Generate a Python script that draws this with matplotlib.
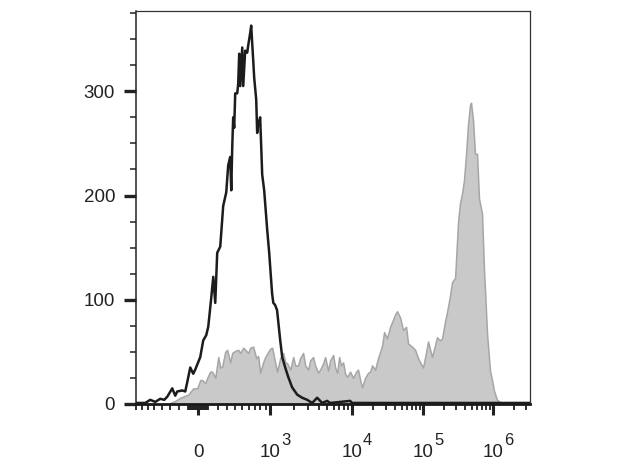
import numpy as np
import matplotlib
matplotlib.use('Agg')
import matplotlib.pyplot as plt
from matplotlib import transforms

plt.rcParams['font.family'] = ['Liberation Sans', 'DejaVu Sans']

# isotype / unstained control (black open histogram)
ctrl_x = [-794, -637, -559, -487, -419, -368, -331, -273, -239, -217,
          -163, -132, -111, -80.5, -50.2, -30.1, 20.1, 50.2, 80.5, 101,
          132, 153, 174, 195, 228, 261, 296, 319, 343, 356,
          368, 380, 393, 406, 432, 445, 459, 473, 501, 515,
          544, 574, 590, 621, 637, 670, 687, 722, 739, 757,
          794, 833, 872, 935, 978, 1060, 1100, 1160, 1230, 1350,
          1430, 1560, 1700, 1900, 2190, 2520, 2900, 3330, 3820, 4390,
          5030, 5470, 9470, 10000, 3380000]
ctrl_n = [1, 1, 4, 2, 5, 4, 7, 15, 8, 12,
          13, 12, 21, 35, 29, 33, 45, 61, 66, 74,
          102, 122, 97, 145, 151, 190, 203, 229, 237, 205,
          246, 275, 265, 298, 298, 307, 336, 305, 342, 305,
          339, 337, 344, 356, 363, 330, 313, 292, 260, 268,
          275, 220, 205, 167, 145, 106, 97, 95, 90, 61,
          45, 35, 26, 16, 9, 6, 4, 1, 6, 1,
          3, 1, 3, 1, 1]

# stained sample (grey filled histogram)
stain_x = [-296, -239, -184, -101, -50.2, -10, 20.1, 40.1, 70.4, 90.7,
           121, 142, 174, 206, 228, 250, 284, 307, 343, 368,
           406, 445, 473, 515, 544, 590, 621, 670, 722, 757,
           794, 852, 893, 956, 1000, 1060, 1160, 1230, 1350, 1470,
           1560, 1650, 1800, 1960, 2070, 2250, 2380, 2590, 2740, 2980,
           3150, 3420, 3610, 3930, 4150, 4510, 4760, 5170, 5470, 5940,
           6270, 6630, 7000, 7390, 7810, 8250, 8720, 9470, 10300, 11400,
           12100, 13000, 13800, 15200, 16800, 17900, 19100, 21100, 23200, 24800,
           26500, 28200, 31100, 34300, 37800, 40300, 43000, 47400, 52300, 57600,
           61500, 70000, 77200, 85000, 90700, 100000, 107000, 118000, 134000, 148000,
           158000, 175000, 187000, 206000, 220000, 243000, 260000, 287000, 316000, 338000,
           361000, 385000, 411000, 439000, 469000, 485000, 518000, 553000, 591000, 631000,
           696000, 744000, 769000, 821000, 848000, 906000, 968000, 1030000, 1140000, 1260000,
           1390000]
stain_n = [1, 3, 6, 9, 15, 15, 23, 23, 20, 25,
           31, 31, 25, 45, 35, 36, 50, 52, 40, 49,
           51, 52, 49, 54, 52, 49, 54, 55, 44, 46,
           30, 40, 45, 50, 53, 54, 40, 31, 44, 49,
           40, 39, 33, 45, 37, 37, 44, 49, 37, 33,
           42, 45, 37, 30, 33, 39, 45, 32, 42, 47,
           35, 30, 45, 37, 40, 29, 26, 31, 25, 31,
           33, 23, 16, 25, 30, 31, 37, 33, 44, 50,
           56, 69, 63, 74, 81, 86, 89, 83, 71, 74,
           58, 55, 52, 44, 40, 35, 45, 60, 45, 56,
           64, 61, 63, 79, 88, 104, 117, 121, 174, 193,
           202, 215, 239, 268, 287, 289, 272, 240, 240, 197,
           183, 128, 109, 68, 56, 32, 23, 13, 4, 2,
           0]

major_x = [0, 1e3, 1e4, 1e5, 1e6]
major_exp = ['', '3', '4', '5', '6']

# biexponential display (logicle-like)
U = np.arcsinh(np.array([0, 1e3, 1e4, 1e5, 1e6, 1e7]) / 500.0)
P = np.array([0, 72, 154, 225, 295, 365.0])

def fwd(x):
    x = np.asarray(x, float)
    return np.sign(x) * np.interp(np.arcsinh(np.abs(x) / 500.0), U, P)

def inv(d):
    d = np.asarray(d, float)
    return np.sign(d) * 500.0 * np.sinh(np.interp(np.abs(d), P, U))

fig = plt.figure(figsize=(6.22, 4.66), dpi=100)
ax = fig.add_axes([136/622, 62/466, 394/622, 393/466])
ax.set_xscale('function', functions=(fwd, inv))

ax.fill_between(stain_x, stain_n, 0, facecolor='#c9c9c9', edgecolor='#a6a6a6', lw=1.1, zorder=2)
ax.plot(ctrl_x, ctrl_n, color='#1c1c1c', lw=1.8, zorder=3)

ax.set_xlim(-794, 3.38e6)
ax.set_ylim(0, 377)

minor = list(-np.arange(100, 900, 100)) + list(np.arange(-90, 100, 10)) + list(np.arange(100, 1000, 100))
for dec in [1e3, 1e4, 1e5]:
    minor += [k * dec for k in range(2, 10)]
minor += [2e6, 3e6]
minor = [m for m in minor if m != 0]
ax.set_xticks(major_x)
ax.set_xticklabels([''] * len(major_x))
ax.set_xticks(minor, minor=True)
ax.tick_params(axis='x', which='major', direction='out', length=8, width=2.2, color='#222222')
ax.tick_params(axis='x', which='minor', direction='out', length=4, width=1.3, color='#222222')

# x labels: "10" centred on the tick, exponent set beside it
tr = transforms.blended_transform_factory(ax.transData, ax.transAxes)
for v, e in zip(major_x, major_exp):
    base = '0' if v == 0 else '10'
    ax.text(v, -0.135, base, transform=tr, ha='center', va='baseline', fontsize=13.5, color='#222222')
    if e:
        t = transforms.offset_copy(tr, fig=fig, x=11, y=12, units='dots')
        ax.text(v, -0.135, e, transform=t, ha='left', va='baseline', fontsize=12, color='#222222')

ax.set_yticks([0, 100, 200, 300])
ax.set_yticks([m for m in range(25, 377, 25) if m % 100], minor=True)
ax.tick_params(axis='y', which='major', direction='out', length=9, width=2.4, color='#222222',
               labelsize=13.5, labelcolor='#222222', pad=6)
ax.tick_params(axis='y', which='minor', direction='out', length=4, width=1.2, color='#333333')

for side in ['top', 'right']:
    ax.spines[side].set_linewidth(0.9)
    ax.spines[side].set_color('#333333')
ax.spines['left'].set_linewidth(1.1)
ax.spines['left'].set_color('#222222')
ax.spines['bottom'].set_linewidth(2)
ax.spines['bottom'].set_color('#1a1a1a')

fig.savefig('out.png', dpi=100)
